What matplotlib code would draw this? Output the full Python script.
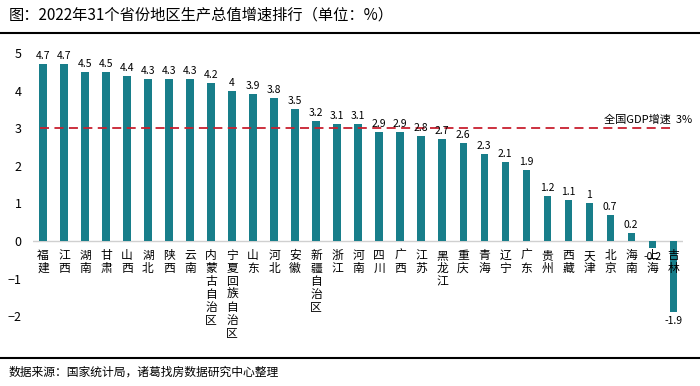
import matplotlib.pyplot as plt
from matplotlib.lines import Line2D

plt.rcParams["font.family"] = ["Noto Sans CJK SC", "DejaVu Sans"]

provinces = ["福建", "江西", "湖南", "甘肃", "山西", "湖北", "陕西", "云南",
             "内蒙古自治区", "宁夏回族自治区", "山东", "河北", "安徽", "新疆自治区",
             "浙江", "河南", "四川", "广西", "江苏", "黑龙江", "重庆", "青海",
             "辽宁", "广东", "贵州", "西藏", "天津", "北京", "海南", "上海", "吉林"]
growth = [4.7, 4.7, 4.5, 4.5, 4.4, 4.3, 4.3, 4.3, 4.2, 4.0, 3.9, 3.8, 3.5, 3.2,
          3.1, 3.1, 2.9, 2.9, 2.8, 2.7, 2.6, 2.3, 2.1, 1.9, 1.2, 1.1, 1.0, 0.7,
          0.2, -0.2, -1.9]
national = 3.0
yticks = [-2, -1, 0, 1, 2, 3, 4, 5]

bar_color = "#187E8A"

fig = plt.figure(figsize=(7, 3.86), dpi=100)
ax = fig.add_axes([0.047, 0.145, 0.929, 0.746])

x = list(range(len(provinces)))
ax.bar(x, growth, width=0.34, color=bar_color, zorder=2)
ax.axhline(0, color="#d0d0d0", lw=1, zorder=1)
ax.plot([-0.15, len(provinces) - 1.15], [national, national], color="#c8202f",
        lw=1.3, ls=(0, (5, 3)), zorder=3)
ax.text(len(provinces) - 0.1, national + 0.08, "全国GDP增速  3%", fontsize=8,
        ha="right", va="bottom")

# value labels
for i, v in enumerate(growth):
    lab = f"{v:g}"
    if v >= 0:
        ax.text(i, v + 0.08, lab, ha="center", va="bottom", fontsize=7.5)
    else:
        ax.text(i, v - 0.1, lab, ha="center", va="top", fontsize=7.5)

# vertical category names, one character per line
for i, name in enumerate(provinces):
    ax.text(i, -0.22, "\n".join(name), ha="center", va="top", fontsize=8.5,
            linespacing=1.0)

ax.set_xlim(-0.48, len(provinces) - 0.52)
ax.set_ylim(-2.37, 5.29)
ax.set_yticks(yticks)
ax.set_xticks([])
ax.tick_params(axis="y", length=0, labelsize=9, pad=8)
for s in ax.spines.values():
    s.set_visible(False)

fig.text(0.012, 0.962, "图：2022年31个省份地区生产总值增速排行（单位：%）",
         fontsize=11, va="center")
fig.add_artist(Line2D([0, 1], [0.915, 0.915], color="black", lw=1.5))
fig.add_artist(Line2D([0, 1], [0.073, 0.073], color="black", lw=1.5))
fig.text(0.012, 0.035, "数据来源：国家统计局，诸葛找房数据研究中心整理",
         fontsize=8.5, va="center")

fig.savefig("out.png", dpi=100)
